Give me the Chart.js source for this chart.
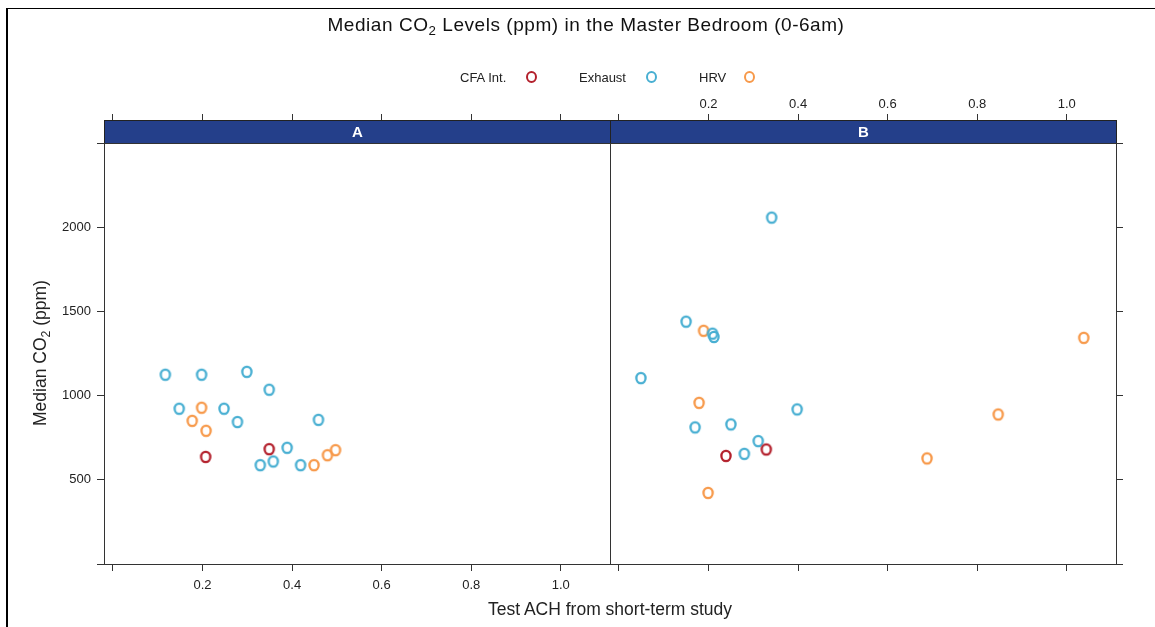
<!DOCTYPE html>
<html>
<head>
<meta charset="utf-8">
<title>Median CO2 Levels in the Master Bedroom</title>
<script src="https://cdn.jsdelivr.net/npm/chart.js@4"></script>
<style>
  html, body { margin: 0; padding: 0; background: #fff; }
  #page { position: relative; width: 1155px; height: 627px; overflow: hidden;
          font-family: "Liberation Sans", Arial, sans-serif; color: #222; }
  #page canvas { position: absolute; left: 0; top: 0; }
  .frameTop { position: absolute; left: 7px; top: 8px; width: 1148px; border-top: 1px solid #000; }
  .frameLeft { position: absolute; left: 6px; top: 8px; height: 619px; border-left: 2px solid #000; }
  #title { position: absolute; left: 0; top: 14px; width: 1172px; text-align: center;
           font-size: 19px; line-height: 22px; letter-spacing: 0.55px; color: #111; }
  sub { font-size: 0.7em; vertical-align: -0.3em; line-height: 0; }
  .leg { position: absolute; top: 70px; font-size: 13px; line-height: 15px; color: #222; }
  .mark { position: absolute; top: 71px; width: 7px; height: 8px; border: 2px solid; border-radius: 50%; }
  #xTitle { position: absolute; left: 410px; width: 400px; top: 599px; text-align: center;
            font-size: 17.5px; line-height: 20px; color: #222; }
  #yTitle { position: absolute; left: -60px; top: 343px; width: 200px; text-align: center;
            font-size: 17.5px; line-height: 20px; color: #222; transform: rotate(-90deg); }
</style>
</head>
<body>
<div id="page">
  <canvas id="panelA" width="1155" height="627"></canvas>
  <canvas id="panelB" width="1155" height="627"></canvas>
  <div class="frameTop"></div>
  <div class="frameLeft"></div>
  <div id="title">Median CO<sub>2</sub> Levels (ppm) in the Master Bedroom (0-6am)</div>
  <span class="leg" style="left:460px">CFA Int.</span>
  <span class="mark" style="left:526px;border-color:#B3202C"></span>
  <span class="leg" style="left:579px">Exhaust</span>
  <span class="mark" style="left:646px;border-color:#48AFD2"></span>
  <span class="leg" style="left:699px">HRV</span>
  <span class="mark" style="left:744px;border-color:#F7994A"></span>
  <div id="xTitle">Test ACH from short-term study</div>
  <div id="yTitle">Median CO<sub>2</sub> (ppm)</div>
</div>
<script>
// Series and panel definitions
const seriesNames = ['CFA Int.', 'Exhaust', 'HRV'];
const seriesColors = ['#B3202C', '#48AFD2', '#F7994A'];
const panelNames = ['A', 'B'];

// Axis ticks and ranges
const achTicks = [0, 0.2, 0.4, 0.6, 0.8, 1.0];
const co2Ticks = [0, 500, 1000, 1500, 2000, 2500];
const achRange = [-0.02, 1.11];
const co2Range = [0, 2500];

// Panel A: test ACH and median CO2 (ppm)
const achA_cfa = [0.207, 0.349];
const co2A_cfa = [636, 682];
const achA_exhaust = [0.117, 0.198, 0.299, 0.349, 0.148, 0.248, 0.278, 0.459, 0.389, 0.329, 0.358, 0.419];
const co2A_exhaust = [1124, 1124, 1141, 1035, 922, 922, 843, 856, 690, 587, 609, 587];
const achA_hrv = [0.198, 0.177, 0.208, 0.449, 0.479, 0.497];
const co2A_hrv = [928, 850, 791, 587, 646, 676];

// Panel B: test ACH and median CO2 (ppm)
const achB_cfa = [0.329, 0.239];
const co2B_cfa = [680, 642];
const achB_exhaust = [0.341, 0.150, 0.209, 0.212, 0.049, 0.398, 0.170, 0.250, 0.311, 0.280];
const co2B_exhaust = [2057, 1439, 1368, 1348, 1104, 918, 811, 829, 730, 654];
const achB_hrv = [0.189, 0.179, 0.199, 1.038, 0.847, 0.688];
const co2B_hrv = [1385, 957, 422, 1343, 888, 627];

const panelData = {
  A: [[achA_cfa, co2A_cfa], [achA_exhaust, co2A_exhaust], [achA_hrv, co2A_hrv]],
  B: [[achB_cfa, co2B_cfa], [achB_exhaust, co2B_exhaust], [achB_hrv, co2B_hrv]]
};

const FONT = '"Liberation Sans", Arial, sans-serif';

// Hollow "O" marker
function ringMarker(color) {
  const c = document.createElement('canvas');
  c.width = 14; c.height = 16;
  const g = c.getContext('2d');
  g.strokeStyle = color;
  g.lineWidth = 2.3;
  g.beginPath();
  g.ellipse(7, 8, 4.6, 5.2, 0, 0, Math.PI * 2);
  g.stroke();
  return c;
}
const markers = seriesColors.map(ringMarker);

// Strip with panel name and the panel box
const panelFrame = {
  id: 'panelFrame',
  afterDraw(chart, args, opts) {
    const { ctx, chartArea: a } = chart;
    const h = opts.stripHeight;
    const L = Math.round(a.left) + 0.5, R = Math.round(a.right) + 0.5;
    const T = Math.round(a.top) + 0.5, B = Math.round(a.bottom) + 0.5;
    ctx.save();
    ctx.fillStyle = opts.stripColor;
    ctx.fillRect(L, T - h, R - L, h);
    ctx.strokeStyle = '#222';
    ctx.lineWidth = 1;
    ctx.strokeRect(L, T - h, R - L, h);
    ctx.strokeStyle = '#333';
    ctx.strokeRect(L, T, R - L, B - T);
    ctx.fillStyle = '#fff';
    ctx.font = 'bold 15px ' + FONT;
    ctx.textAlign = 'center';
    ctx.textBaseline = 'middle';
    ctx.fillText(opts.label, (L + R) / 2, T - h / 2 + 1);
    ctx.restore();
  }
};

function fixedTicks(values) {
  return s => { s.ticks = values.map(v => ({ value: v })); };
}

function axisStyle(tickLength, showLabels, fmt, padding) {
  return {
    grid: { drawOnChartArea: false, drawTicks: true, tickLength: tickLength, color: '#333', lineWidth: 1 },
    border: { display: true, color: '#333', width: 1 },
    ticks: {
      autoSkip: false, maxRotation: 0, minRotation: 0, padding: padding,
      color: '#222', font: { family: FONT, size: 13 },
      callback: v => showLabels ? fmt(v) : ''
    }
  };
}

const achFmt = v => (v === 0 ? '' : v.toFixed(1));
const co2Fmt = v => (v === 0 || v === 2500 ? '' : String(v));

function buildPanel(canvasId, name, isLeft) {
  const datasets = panelData[name].map(([ach, co2], i) => ({
    label: seriesNames[i],
    data: ach.map((x, k) => ({ x: x, y: co2[k] })),
    pointStyle: markers[i],
    pointRadius: 6,
    showLine: false
  }));

  const xBottom = Object.assign({
    type: 'linear', position: 'bottom', min: achRange[0], max: achRange[1],
    afterBuildTicks: fixedTicks(achTicks),
    afterFit: s => { s.height = 30; }
  }, axisStyle(7, isLeft, achFmt, 7));

  const xTop = Object.assign({
    type: 'linear', position: 'top', min: achRange[0], max: achRange[1],
    afterBuildTicks: fixedTicks(achTicks),
    afterFit: s => { s.height = 70; }
  }, axisStyle(29, !isLeft, achFmt, 2));

  const yAxis = Object.assign({
    type: 'linear', position: isLeft ? 'left' : 'right', min: co2Range[0], max: co2Range[1],
    afterBuildTicks: fixedTicks(co2Ticks),
    afterFit: s => { s.width = isLeft ? 60 : 10; }
  }, axisStyle(7, isLeft, co2Fmt, 6));

  return new Chart(document.getElementById(canvasId), {
    type: 'scatter',
    data: { datasets: datasets },
    plugins: [panelFrame],
    options: {
      responsive: false,
      devicePixelRatio: 1,
      animation: false,
      events: [],
      layout: {
        padding: isLeft
          ? { left: 44, right: 545, top: 73, bottom: 33 }
          : { left: 610, right: 29, top: 73, bottom: 33 }
      },
      scales: { x: xBottom, xTop: xTop, y: yAxis },
      plugins: {
        legend: { display: false },
        tooltip: { enabled: false },
        title: { display: false },
        panelFrame: { label: name, stripHeight: 23, stripColor: '#243F8A' }
      }
    }
  });
}

buildPanel('panelA', panelNames[0], true);
buildPanel('panelB', panelNames[1], false);
</script>
</body>
</html>
